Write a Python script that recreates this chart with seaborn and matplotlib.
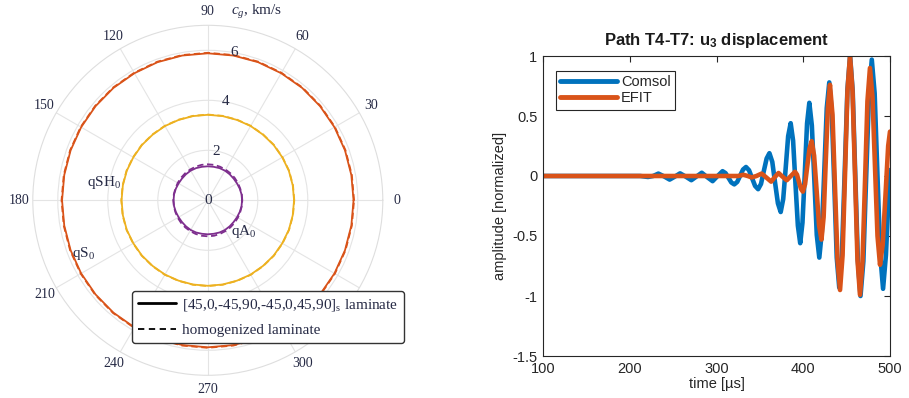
import numpy as np
import matplotlib
matplotlib.use("Agg")
import matplotlib.pyplot as plt
import seaborn as sns
from matplotlib.lines import Line2D

# ---------------- data: left polar (group velocity, km/s) ----------------
angle_deg = [0, 10, 20, 30, 40, 50, 60, 70, 80, 90, 100, 110, 120, 130, 140, 150, 160, 170, 180,
             190, 200, 210, 220, 230, 240, 250, 260, 270, 280, 290, 300, 310, 320, 330, 340, 350, 360]
qS0_laminate = [5.83, 5.83, 5.84, 5.85, 5.86, 5.87, 5.87, 5.88, 5.88, 5.88, 5.88, 5.88, 5.87, 5.87, 5.86, 5.85, 5.84, 5.83, 5.83,
                5.83, 5.84, 5.85, 5.86, 5.87, 5.87, 5.88, 5.88, 5.88, 5.88, 5.88, 5.87, 5.87, 5.86, 5.85, 5.84, 5.83, 5.83]
qS0_homog = [5.85, 5.85, 5.86, 5.87, 5.88, 5.89, 5.89, 5.90, 5.90, 5.90, 5.90, 5.90, 5.89, 5.89, 5.88, 5.87, 5.86, 5.85, 5.85,
             5.85, 5.86, 5.87, 5.88, 5.89, 5.89, 5.90, 5.90, 5.90, 5.90, 5.90, 5.89, 5.89, 5.88, 5.87, 5.86, 5.85, 5.85]
qSH0_laminate = [3.45, 3.45, 3.45, 3.44, 3.44, 3.43, 3.43, 3.42, 3.42, 3.42, 3.42, 3.42, 3.43, 3.43, 3.44, 3.44, 3.45, 3.45, 3.45,
                 3.45, 3.45, 3.44, 3.44, 3.43, 3.43, 3.42, 3.42, 3.42, 3.42, 3.42, 3.43, 3.43, 3.44, 3.44, 3.45, 3.45, 3.45]
qSH0_homog = [3.46, 3.46, 3.46, 3.45, 3.45, 3.44, 3.44, 3.43, 3.43, 3.43, 3.43, 3.43, 3.44, 3.44, 3.45, 3.45, 3.46, 3.46, 3.46,
              3.46, 3.46, 3.45, 3.45, 3.44, 3.44, 3.43, 3.43, 3.43, 3.43, 3.43, 3.44, 3.44, 3.45, 3.45, 3.46, 3.46, 3.46]
qA0_laminate = [1.37, 1.37, 1.36, 1.35, 1.35, 1.36, 1.37, 1.37, 1.36, 1.36, 1.36, 1.37, 1.37, 1.36, 1.35, 1.35, 1.36, 1.37, 1.37,
                1.37, 1.36, 1.35, 1.35, 1.36, 1.37, 1.37, 1.36, 1.36, 1.36, 1.37, 1.37, 1.36, 1.35, 1.35, 1.36, 1.37, 1.37]
qA0_homog = [1.38, 1.38, 1.38, 1.39, 1.40, 1.41, 1.42, 1.43, 1.44, 1.44, 1.44, 1.43, 1.42, 1.41, 1.40, 1.39, 1.38, 1.38, 1.38,
             1.38, 1.38, 1.39, 1.40, 1.41, 1.42, 1.43, 1.44, 1.44, 1.44, 1.43, 1.42, 1.41, 1.40, 1.39, 1.38, 1.38, 1.38]
r_tick_values = [2, 4, 6]
# the 330 label is hidden behind the legend in the reference
theta_tick_labels = ["0", "30", "60", "90", "120", "150", "180", "210", "240", "270", "300"]
polar_legend_labels = [r"[45,0,-45,90,-45,0,45,90]$_\mathrm{s}$ laminate", "homogenized laminate"]

# ---------------- data: right time signal ----------------
time_comsol = [100, 150, 200, 212, 221, 227, 233, 239.5, 246, 252, 258, 264.5, 271, 277, 283, 289, 295.5, 301, 307, 310.4,
               313.8, 317.1, 320.5, 323.9, 327.3, 330.6, 334, 337.5, 341, 344.5, 348, 351.3, 354.5, 357.8, 361, 364.3,
               367.5, 370.8, 374, 376.9, 379.8, 382.6, 385.5, 388.3, 391, 393.8, 396.5, 399.1, 401.8, 404.4, 407, 409.9,
               412.8, 415.6, 418.5, 421.4, 424.3, 427.1, 430, 432.9, 435.8, 438.6, 441.5, 444.6, 447.8, 450.9, 454, 457,
               460, 463, 466, 469.3, 472.5, 475.8, 479, 482.3, 485.5, 488.8, 492, 495.3, 498.5, 500]
amp_comsol = [0, 0, 0, 0, -0.008, 0.0, 0.02, -0.003, -0.03, -0.005, 0.022, -0.005, -0.035, -0.004, 0.027, -0.008, -0.043,
              -0.002, 0.04, 0.024, -0.015, -0.054, -0.07, -0.049, 0.003, 0.054, 0.075, 0.048, -0.018, -0.083, -0.11, -0.066,
              0.04, 0.146, 0.19, 0.118, -0.055, -0.228, -0.30, -0.192, 0.07, 0.332, 0.44, 0.294, -0.06, -0.414, -0.56,
              -0.389, 0.025, 0.439, 0.61, 0.421, -0.035, -0.491, -0.68, -0.466, 0.05, 0.566, 0.78, 0.529, -0.075, -0.679,
              -0.93, -0.647, 0.035, 0.717, 1.0, 0.707, 0.0, -0.707, -1.0, -0.711, -0.015, 0.681, 0.97, 0.69, 0.015, -0.66,
              -0.94, -0.66, -0.15, 0.05]
time_efit = [100, 200, 300, 325, 331, 336, 340.5, 346, 352, 357.5, 363, 367, 371.5, 376, 381, 385.7, 390.5, 392.8, 395,
             397.3, 399.5, 402.1, 404.6, 407.2, 409.7, 412.5, 415.4, 418.2, 421, 423.5, 425.9, 428.4, 430.8, 433.7, 436.6,
             439.5, 442.4, 445.3, 448.2, 451, 453.9, 456.8, 459.7, 462.5, 465.4, 468.3, 471.2, 474, 476.9, 479.8, 482.7,
             485.6, 488.5, 491.6, 494.8, 497.9, 500]
amp_efit = [0, 0, 0, 0, 0.01, 0, -0.012, 0.0, 0.02, -0.013, -0.047, -0.011, 0.025, -0.005, -0.035, 0.0, 0.035, 0.011,
            -0.048, -0.106, -0.13, -0.068, 0.08, 0.228, 0.29, 0.17, -0.12, -0.41, -0.53, -0.341, 0.115, 0.571, 0.76,
            0.509, -0.095, -0.699, -0.95, -0.664, 0.025, 0.714, 1.0, 0.708, 0.005, -0.698, -0.99, -0.713, -0.045, 0.623,
            0.9, 0.66, 0.08, -0.5, -0.74, -0.57, -0.16, 0.25, 0.37]
x_ticks = [100, 200, 300, 400, 500]
y_ticks = [-1.5, -1, -0.5, 0, 0.5, 1]
y_tick_labels = ["-1.5", "-1", "-0.5", "0", "0.5", "1"]
series_names = ["Comsol", "EFIT"]

# ---------------- style ----------------
sns.set_style("white")
plt.rcParams["font.family"] = ["Liberation Sans", "DejaVu Sans"]
plt.rcParams["mathtext.fontset"] = "custom"
plt.rcParams["mathtext.rm"] = "Liberation Serif"
plt.rcParams["mathtext.it"] = "Liberation Serif:italic"
plt.rcParams["mathtext.bf"] = "Liberation Sans:bold"
plt.rcParams["axes.unicode_minus"] = False

C_BLUE = "#0072BD"
C_ORANGE = "#D95319"
C_YELLOW = "#EDB120"
C_PURPLE = "#7E2F8E"
TXT = "#262a45"
SERIF = ["Liberation Serif", "DejaVu Serif"]

fig = plt.figure(figsize=(9.09, 3.98), dpi=100)

# ---------------- left: polar ----------------
cx, cy, R = 207.8, 200.3, 175.0
axp = fig.add_axes([(cx - R) / 909, (398 - cy - R) / 398, 2 * R / 909, 2 * R / 398], projection="polar")
theta = np.deg2rad(angle_deg)
for lam, hom, col in [(qS0_laminate, qS0_homog, C_ORANGE),
                      (qSH0_laminate, qSH0_homog, C_YELLOW),
                      (qA0_laminate, qA0_homog, C_PURPLE)]:
    sns.lineplot(x=theta, y=lam, ax=axp, color=col, lw=1.3, sort=False, estimator=None)
    sns.lineplot(x=theta, y=hom, ax=axp, color=col, lw=1.3, sort=False, estimator=None, linestyle=(0, (3.5, 2)))
axp.set_rlim(0, 7)
axp.set_rgrids(r_tick_values, labels=[""] * len(r_tick_values))
axp.set_thetagrids(np.arange(0, 360, 30), labels=[""] * 12)
axp.grid(True, color="#e4e4e4", lw=0.8, ls="-")
axp.spines["polar"].set_color("#dedede")
axp.spines["polar"].set_linewidth(0.8)
axp.tick_params(length=0)
axp.set_xlabel("")
axp.set_ylabel("")

for lab in theta_tick_labels:
    ang = float(lab)
    rr = 7.55
    axp.text(np.deg2rad(ang), rr, lab, ha="center", va="center", fontsize=10,
             family=SERIF, color=TXT, clip_on=False)
for rv in r_tick_values:
    axp.text(np.deg2rad(80), rv, str(rv), ha="center", va="center", fontsize=11,
             family=SERIF, color=TXT, clip_on=False)
axp.text(0, 0, "0", ha="center", va="center", fontsize=11, family=SERIF, color=TXT)
axp.text(np.deg2rad(170), 4.2, r"qSH$_\mathrm{0}$", ha="center", va="center", fontsize=11,
         family=SERIF, color=TXT)
axp.text(np.deg2rad(203), 5.4, r"qS$_\mathrm{0}$", ha="center", va="center", fontsize=11,
         family=SERIF, color=TXT)
axp.text(np.deg2rad(319), 1.9, r"qA$_\mathrm{0}$", ha="center", va="center", fontsize=11,
         family=SERIF, color=TXT)
fig.text(257 / 909, 1 - 12 / 398, r"$c_g$, km/s", ha="center", va="center", fontsize=11,
         family=SERIF, color=TXT)

leg_handles = [Line2D([], [], color="black", lw=2.0),
               Line2D([], [], color="black", lw=1.3, ls=(0, (3.5, 2.5)))]
legp = fig.legend(leg_handles, polar_legend_labels, loc="upper left",
                  bbox_to_anchor=(132 / 909, 1 - 291 / 398), bbox_transform=fig.transFigure,
                  prop={"family": SERIF, "size": 11}, fancybox=True, framealpha=1,
                  edgecolor="#333333", handlelength=2.5, handletextpad=0.4, labelspacing=0.7,
                  borderpad=0.38, borderaxespad=0)
legp.get_frame().set_linewidth(1.0)
for t in legp.get_texts():
    t.set_color(TXT)

# ---------------- right: time signal ----------------
axr = fig.add_axes([543 / 909, (398 - 356) / 398, 347 / 909, 300 / 398])
sns.lineplot(x=time_comsol, y=amp_comsol, ax=axr, color=C_BLUE, lw=3.3, sort=False, estimator=None)
sns.lineplot(x=time_efit, y=amp_efit, ax=axr, color=C_ORANGE, lw=3.3, sort=False, estimator=None)
axr.set_xlim(100, 500)
axr.set_ylim(-1.5, 1)
axr.set_xticks(x_ticks)
axr.set_xticklabels([str(v) for v in x_ticks])
axr.set_yticks(y_ticks)
axr.set_yticklabels(y_tick_labels)
axr.tick_params(direction="in", top=True, right=True, length=4, width=0.8,
                labelsize=10.5, colors="#262626", pad=4)
for s in axr.spines.values():
    s.set_color("#262626")
    s.set_linewidth(0.8)
axr.set_xlabel("time [µs]", fontsize=10.5, color="#262626", labelpad=1)
axr.set_ylabel("amplitude [normalized]", fontsize=10.5, color="#262626", labelpad=4)
axr.set_title(r"Path T4-T7: u$_\mathbf{3}$ displacement", fontsize=12, fontweight="bold",
              color="#1a1a1a", pad=8)
r_handles = [Line2D([], [], color=C_BLUE, lw=3.5), Line2D([], [], color=C_ORANGE, lw=3.5)]
legr = axr.legend(r_handles, series_names, loc="upper left", bbox_to_anchor=(0.0375, 0.951),
                  fancybox=False, framealpha=1, edgecolor="#262626", fontsize=10.5,
                  handlelength=3.9, handletextpad=0.25, labelspacing=0.15, borderpad=0.3,
                  borderaxespad=0)
legr.get_frame().set_linewidth(0.8)

fig.savefig("out.png", dpi=100)
